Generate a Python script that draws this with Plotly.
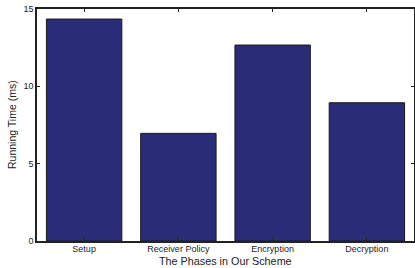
import plotly.graph_objects as go

phases = ["Setup", "Receiver Policy", "Encryption", "Decryption"]
running_time_ms = [14.35, 6.96, 12.67, 8.94]
y_ticks = [0, 5, 10, 15]

fig = go.Figure(go.Bar(
    x=phases, y=running_time_ms, width=0.8,
    marker=dict(color="#2b2c78", line=dict(color="#1a1a1a", width=1)),
))

font = "Liberation Sans, Arial, Helvetica, sans-serif"
fig.update_layout(
    width=415, height=268,
    margin=dict(l=37, r=1, t=9, b=27),
    paper_bgcolor="white", plot_bgcolor="white",
    showlegend=False,
    font=dict(family=font, color="#222222", size=8),
)
fig.update_xaxes(
    range=[-0.5, 3.5], showline=True, linecolor="#222222", linewidth=1.5,
    mirror="ticks", ticks="inside", ticklen=3, tickcolor="#222222",
    tickfont=dict(size=9), showgrid=False, automargin=False,
    ticklabelstandoff=-2,
)
fig.update_yaxes(
    range=[0, 15], tickvals=y_ticks, showline=True, linecolor="#222222", linewidth=1.5,
    mirror="ticks", ticks="inside", ticklen=3, tickcolor="#222222",
    tickfont=dict(size=9), showgrid=False, zeroline=False, automargin=False,
)
fig.add_annotation(text="The Phases in Our Scheme", xref="paper", yref="paper",
                   x=0.5, y=0, yshift=-20, xanchor="center", yanchor="middle",
                   showarrow=False, font=dict(size=10.8))
fig.add_annotation(text="Running Time (ms)", xref="paper", yref="paper",
                   x=0, y=0.5, xshift=-25, textangle=-90, xanchor="center",
                   yanchor="middle", showarrow=False, font=dict(size=10.5))
fig.write_html("out.html", config={"displayModeBar": False},
               post_script="document.body.style.margin='0';")
